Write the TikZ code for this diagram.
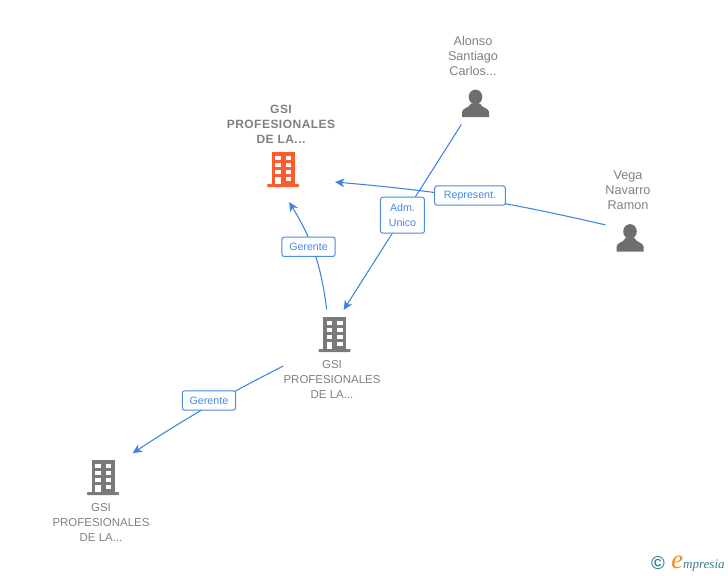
\documentclass[tikz,border=0pt]{standalone}
\usepackage{fontspec}
\setmainfont{Liberation Sans}
\newfontfamily\spacedfont[LetterSpace=4]{Liberation Sans}
\newfontfamily\logofont{Liberation Serif}
\usetikzlibrary{arrows.meta}
\definecolor{linkblue}{HTML}{3F83E0}
\definecolor{tagblue}{HTML}{4A8AE2}
\definecolor{textgrey}{HTML}{808080}
\definecolor{iconorange}{HTML}{FF5A2C}
\definecolor{icongrey}{HTML}{7A7A7A}
\definecolor{persongrey}{HTML}{6E6E6E}
\definecolor{logoteal}{HTML}{3D7F96}
\definecolor{logoorange}{HTML}{F08A1D}

\tikzset{
	building/.pic={
		\fill[pic actions] (-11.5,-18) rectangle (11.5,15);
		\fill[pic actions,rounded corners=.7pt] (-16,14) rectangle (16,17);
		\foreach \ypos in {-14,-7,0,7} {
			\fill[white] (2.5,\ypos) rectangle (8,\ypos+4.2);
		}
		\foreach \ypos in {-14,-7,0} {
			\fill[white] (-8,\ypos) rectangle (-2.5,\ypos+4.2);
		}
		\fill[white] (-8,7) rectangle (-2.5,14);
	},
	person/.pic={
		\fill[persongrey] (0,-6.5) ellipse (6.8 and 7.4);
		\fill[persongrey] (-13.5,13.5) -- (-13.5,8.5) .. controls (-13.5,4.5) and (-6,4.5) .. (-4.5,0)
			-- (4.5,0) .. controls (6,4.5) and (13.5,4.5) .. (13.5,8.5) -- (13.5,13.5) -- cycle;
	}
}

\begin{document}
\begin{tikzpicture}[x=.75pt,y=-.75pt,->,>={Stealth[length=7pt,width=6.5pt,inset=2pt]},
		link/.style={linkblue,line width=.8pt},
		tag/.style={draw=tagblue,fill=white,text=tagblue,rounded corners=1.8pt,line width=.75pt,font={\fontsize{8}{11.25}\selectfont},inner sep=0pt,align=center},
		nametext/.style={text=textgrey,align=center,inner sep=0pt,font={\fontsize{8.6}{11.25}\selectfont}},
		personname/.style={nametext,font={\fontsize{9.5}{11.25}\selectfont}},
		anchorbox/.style={inner sep=0pt,outer sep=0pt}]
		\useasboundingbox (0,0) rectangle (728,575);
		% empresas
		\node[anchorbox,minimum width=78pt,minimum height=48pt] (gsi1) at (283,170) {};
		\node[anchorbox,circle,minimum size=40pt] (gsi2) at (334.5,335) {};
		\node[anchorbox,circle,minimum size=58pt] (gsi3) at (103,478) {};
		\pic[iconorange] at (gsi1) {building};
		\pic[icongrey] at (gsi2) {building};
		\pic[icongrey] at (gsi3) {building};
		% personas
		\node[anchorbox,circle,minimum size=38pt] (alonso) at (475.5,103.5) {};
		\node[anchorbox,circle,minimum size=42pt] (vega) at (630,238) {};
		\pic at (alonso) {person};
		\pic at (vega) {person};
		% nombres
		\node[nametext,font={\fontsize{9}{11.25}\selectfont\spacedfont\bfseries}] (gsi1 name) at (281,124) {GSI\\PROFESIONALES\\DE LA...};
		\node[nametext] (gsi2 name) at (332,379) {GSI\\PROFESIONALES\\DE LA...};
		\node[nametext] (gsi3 name) at (101,522) {GSI\\PROFESIONALES\\DE LA...};
		\node[personname] (alonso name) at (473,56) {Alonso\\Santiago\\Carlos...};
		\node[personname] (vega name) at (628,190) {Vega\\Navarro\\Ramon};
		% relaciones
		\path[link]
		(vega.152.5) edge [bend right=4] node [tag,minimum width=53pt,minimum height=14.5pt,xshift=-.75pt,yshift=1.75pt] (represent) {Represent.} (gsi1.-13)
		(alonso.236) edge node [tag,minimum width=33pt,minimum height=27pt,yshift=1.5pt] (adm) {Adm.\\Unico} (gsi2.70)
		(gsi2.107) edge [bend right=12] node [tag,minimum width=40pt,minimum height=14.5pt,xshift=-4.5pt,yshift=5pt] (gerente1) {Gerente} (gsi1.-79)
		(gsi2 name.165) edge [bend right=3] node [tag,minimum width=40pt,minimum height=14.5pt,xshift=1.75pt,yshift=5pt] (gerente2) {Gerente} (gsi3.40);
		% logo
		\node[inner sep=0pt,text=logoteal,font={\fontsize{14}{14}\selectfont\bfseries}] (copyright) at (658,563.5) {©};
		\node[inner sep=0pt,anchor=base west,text=logoteal,font={\fontsize{9.8}{12}\selectfont\logofont\itshape}] (logo) at (671,568.5) {{\fontsize{20}{20}\selectfont\color{logoorange}e}mpresia};
		\end{tikzpicture}
\end{document}
